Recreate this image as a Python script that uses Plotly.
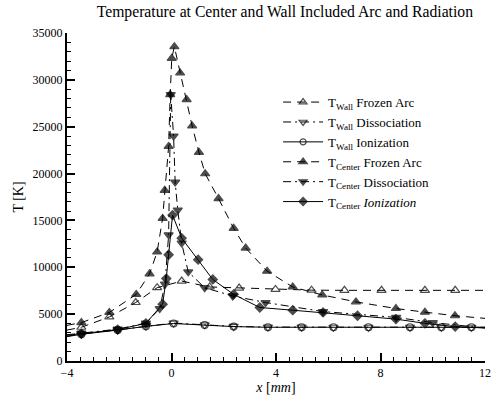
import plotly.graph_objects as go

# ---------------- data ----------------
x_cfa = [-4, -3.45, -2.38, -1.35, -0.84, -0.55, -0.34, -0.26, -0.11, -0.05, 0.01, 0.11,
         0.33, 0.58, 0.79, 1.05, 1.29, 1.80, 2.38, 2.84, 3.66, 4.64, 5.77, 7.06, 8.59,
         9.70, 10.85, 12]
t_cfa = [3800, 4100, 5180, 7110, 9300, 11630, 15220, 18210, 22900, 28430, 32300, 33540,
         30730, 27900, 25080, 22270, 19980, 17330, 14160, 12050, 9590, 7900, 7050, 6310,
         5600, 5210, 4830, 4550]

x_wfa = [-4, -3.45, -2.38, -1.37, -0.55, 0.39, 1.46, 2.59, 3.98, 5.36, 6.62, 8.04,
         9.70, 10.86, 12]
t_wfa = [3300, 3600, 4700, 6240, 7820, 8530, 7900, 7780, 7640, 7560, 7540, 7540,
         7540, 7540, 7540]

x_ci = [-4, -3.45, -2.06, -0.98, -0.34, -0.20, -0.11, 0.04, 0.39, 1.02, 1.58, 2.38,
        3.38, 4.64, 5.80, 7.12, 8.59, 9.70, 10.86, 12]
t_ci = [2750, 2920, 3350, 4020, 6060, 8800, 11340, 15570, 13110, 10810, 8700, 7110,
        5710, 5420, 5180, 4830, 4470, 4020, 3670, 3520]

x_cd = [-4, -3.45, -2.06, -0.98, -0.45, -0.25, -0.11, -0.03, 0.08, 0.14, 0.24, 0.39,
        0.64, 1.27, 2.34, 3.60, 5.80, 8.60, 10.0, 12]
t_cd = [2800, 2980, 3400, 4050, 5600, 8200, 13460, 28430, 24000, 19100, 16100, 12580,
        9510, 7820, 6940, 6240, 5280, 4650, 4100, 3520]

x_wd = [-4, -3.45, -2.06, -0.98, 0.08, 1.27, 2.38, 3.69, 4.98, 6.20, 7.54, 9.13,
        10.33, 11.48, 12]
t_wd = [2650, 2880, 3320, 3720, 4050, 3860, 3690, 3620, 3610, 3600, 3600, 3600,
        3600, 3600, 3600]

x_wi = [-4, -3.45, -2.06, -0.98, 0.08, 1.27, 2.38, 3.69, 4.98, 6.20, 7.54, 9.13,
        10.33, 11.48, 12]
t_wi = [2600, 2850, 3300, 3700, 4000, 3840, 3670, 3600, 3600, 3600, 3600, 3600,
        3600, 3600, 3600]

names = [
    "T<sub>Wall</sub> Frozen Arc",
    "T<sub>Wall</sub> Dissociation",
    "T<sub>Wall</sub> Ionization",
    "T<sub>Center</sub> Frozen Arc",
    "T<sub>Center</sub> Dissociation",
    "T<sub>Center</sub> <i>Ionization</i>",
]

DASH = "8px,6px"
DASHDOT = "8px,4px,2px,4px"

series = [
    (x_wfa, t_wfa, names[0], "triangle-up-open", DASH, 8),
    (x_wd, t_wd, names[1], "triangle-down-open", DASHDOT, 8),
    (x_wi, t_wi, names[2], "circle-open", "solid", 7),
    (x_cfa, t_cfa, names[3], "triangle-up", DASH, 8),
    (x_cd, t_cd, names[4], "triangle-down", DASHDOT, 8),
    (x_ci, t_ci, names[5], "diamond", "solid", 7),
]

fig = go.Figure()
for xs, ts, nm, sym, dash, size in series:
    n = len(xs)
    sizes = [0 if i in (0, n - 1) else size for i in range(n)]
    fig.add_trace(go.Scatter(
        x=xs, y=ts, name=nm, mode="lines+markers",
        line=dict(color="black", width=1, dash=dash),
        marker=dict(symbol=sym, size=sizes, color="black",
                    line=dict(color="black", width=1.2)),
    ))

SERIF = "Liberation Serif"

fig.update_layout(
    width=498, height=399,
    margin=dict(l=67, r=7, t=33, b=35),
    paper_bgcolor="white", plot_bgcolor="white",
    font=dict(family=SERIF, size=12, color="black"),
    title=dict(text="Temperature at Center and Wall Included Arc and Radiation",
               x=0.572, xanchor="center", xref="container",
               y=1 - 12 / 399, yanchor="middle", yref="container",
               font=dict(family=SERIF, size=15.7, color="black")),
    showlegend=True,
    legend=dict(x=0.505, y=0.835, xanchor="left", yanchor="top",
                bgcolor="rgba(0,0,0,0)", font=dict(family=SERIF, size=13),
                itemwidth=40, tracegroupgap=0),
    # secondary x axis used only for the medium-length ticks every 2 mm
    xaxis2=dict(overlaying="x", anchor="y", side="bottom", range=[-4, 12],
                tickmode="linear", tick0=-4, dtick=2, ticks="inside", ticklen=6,
                tickwidth=1, tickcolor="black", showticklabels=False,
                showline=False, showgrid=False, zeroline=False),
)

fig.update_xaxes(
    selector=dict(overlaying=None),
)
fig.layout.xaxis.update(
    range=[-4, 12], tickmode="linear", tick0=-4, dtick=4,
    showline=True, linecolor="black", linewidth=2, mirror=False,
    ticks="inside", ticklen=8, tickwidth=1.5, tickcolor="black",
    minor=dict(dtick=0.5, tick0=-4, ticklen=4, ticks="inside", tickcolor="black", tickwidth=1),
    showgrid=False, zeroline=False,
    title=dict(text="<i>x</i> [<i>mm</i>]", font=dict(family=SERIF, size=14), standoff=2),
    tickfont=dict(family=SERIF, size=12),
)
fig.update_yaxes(
    range=[0, 35000], tickmode="linear", tick0=0, dtick=5000,
    tickformat="d", exponentformat="none",
    showline=True, linecolor="black", linewidth=2, mirror=False,
    ticks="inside", ticklen=8, tickwidth=1.5, tickcolor="black",
    minor=dict(dtick=1000, ticklen=4, ticks="inside", tickcolor="black", tickwidth=1),
    showgrid=False, zeroline=False,
    title=dict(text="T [K]", font=dict(family=SERIF, size=14), standoff=6),
    tickfont=dict(family=SERIF, size=12),
)

fig.write_html("out.html", config={"displayModeBar": False},
               post_script="document.body.style.margin='0';document.body.style.padding='0';")
